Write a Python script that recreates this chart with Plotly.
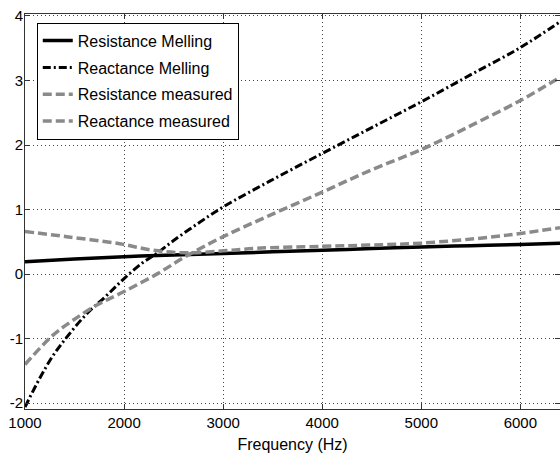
import plotly.graph_objects as go

# Resistance (Melling model)
freq_res_melling = [1000, 1500, 2000, 2500, 3000, 3500, 4000, 4500, 5000, 5500, 6000, 6400]
res_melling = [0.19, 0.235, 0.27, 0.295, 0.32, 0.345, 0.37, 0.395, 0.42, 0.44, 0.46, 0.48]

# Reactance (Melling model)
freq_reac_melling = [1000, 1150, 1280, 1420, 1620, 1825, 2000, 2190, 2330, 2500, 2760, 3000,
                     3470, 4000, 4500, 5000, 5500, 6000, 6400]
reac_melling = [-2.06, -1.61, -1.27, -0.98, -0.62, -0.33, -0.07, 0.18, 0.32, 0.52, 0.80, 1.04,
                1.44, 1.87, 2.27, 2.67, 3.09, 3.51, 3.91]

# Resistance measured
freq_res_meas = [1000, 1420, 1957, 2290, 2630, 3000, 3340, 4000, 4470, 5000, 5680, 6000, 6400]
res_meas = [0.66, 0.58, 0.47, 0.37, 0.33, 0.36, 0.40, 0.43, 0.45, 0.48, 0.57, 0.63, 0.72]

# Reactance measured
freq_reac_meas = [1000, 1280, 1480, 1725, 2000, 2330, 2630, 3000, 3470, 4000, 4475,
                  5000, 5250, 5500, 6000, 6400]
reac_meas = [-1.40, -0.95, -0.72, -0.48, -0.27, 0.0, 0.28, 0.58, 0.91, 1.27, 1.60,
             1.93, 2.11, 2.30, 2.69, 3.05]

x_ticks = [1000, 2000, 3000, 4000, 5000, 6000]
y_ticks = [-2, -1, 0, 1, 2, 3, 4]
y_labels = ["-2", "-1", "0", "1", "2", "3", "4"]

gray = "#8a8a8a"
font = "Liberation Sans, Arial, sans-serif"

fig = go.Figure()
fig.add_trace(go.Scatter(x=freq_res_melling, y=res_melling, mode="lines", name="Resistance Melling",
                         legendgroup="a", line=dict(color="black", width=3.5, shape="spline")))
fig.add_trace(go.Scatter(x=freq_reac_melling, y=reac_melling, mode="lines", name="Reactance Melling",
                         legendgroup="b", line=dict(color="black", width=3, dash="8px,3px,2px,3px", shape="spline")))
fig.add_trace(go.Scatter(x=freq_res_meas, y=res_meas, mode="lines", name="Resistance measured",
                         legendgroup="c", line=dict(color=gray, width=3.5, dash="9px,4px", shape="spline")))
fig.add_trace(go.Scatter(x=freq_reac_meas, y=reac_meas, mode="lines", name="Reactance measured",
                         legendgroup="d", line=dict(color=gray, width=3.5, dash="9px,4px", shape="spline")))

axis_style = dict(showline=True, linecolor="#333", linewidth=1, mirror="allticks",
                  ticks="inside", ticklen=5, tickcolor="#333",
                  showgrid=True, gridcolor="#444", gridwidth=1, griddash="1px,3px",
                  zeroline=False, tickfont=dict(size=15, color="black", family=font))

fig.update_xaxes(range=[1000, 6400], tickvals=x_ticks,
                 title=dict(text="Frequency (Hz)", font=dict(size=16, color="black", family=font), standoff=8),
                 **axis_style)
fig.update_yaxes(range=[-2.09, 4.03], tickvals=y_ticks, ticktext=y_labels,
                 ticklabelstandoff=-2, **axis_style)

fig.update_layout(
    width=560, height=455,
    margin=dict(l=25, r=0, t=14, b=46),
    plot_bgcolor="white", paper_bgcolor="white",
    font=dict(family=font, color="black"),
    legend=dict(x=0.022, y=0.978, xanchor="left", yanchor="top",
                bgcolor="white", bordercolor="black", borderwidth=1,
                font=dict(size=16, color="black", family=font),
                tracegroupgap=3, itemwidth=30),
    showlegend=True,
)

# page body has a default 8px margin; drop it so the figure sits at the corner
fig.write_html("out.html", config={"displayModeBar": False},
               post_script="document.body.style.margin='0';")
